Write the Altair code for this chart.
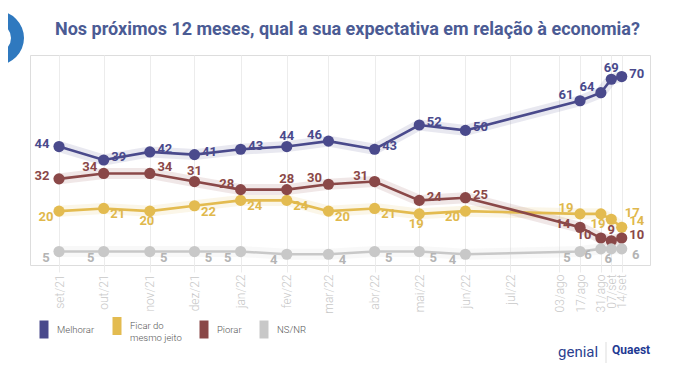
import altair as alt
import pandas as pd

# ---------------- data ----------------
series = ["Melhorar", "Ficar do mesmo jeito", "Piorar", "NS/NR"]
colors = ["#4a4a8c", "#e3bb50", "#8a4848", "#c8c8c8"]
text_colors = ["#4a4a8c", "#e0b84c", "#8a4848", "#b4b4b4"]

point_dates = ["2021-09-01", "2021-10-01", "2021-11-01", "2021-12-01", "2022-01-01",
               "2022-02-01", "2022-03-01", "2022-04-01", "2022-05-01", "2022-06-01",
               "2022-08-17", "2022-08-31", "2022-09-07", "2022-09-14"]

melhorar = [44, 39, 42, 41, 43, 44, 46, 43, 52, 50, 61, 64, 69, 70]
ficar = [20, 21, 20, 22, 24, 24, 20, 21, 19, 20, 19, 19, 17, 14]
piorar = [32, 34, 34, 31, 28, 28, 30, 31, 24, 25, 14, 10, 9, 10]
nsnr = [5, 5, 5, 5, 5, 4, 4, 5, 5, 4, 5, 6, 6, 6]

tick_dates = [(2021, 9, 1), (2021, 10, 1), (2021, 11, 1), (2021, 12, 1), (2022, 1, 1),
              (2022, 2, 1), (2022, 3, 1), (2022, 4, 1), (2022, 5, 1), (2022, 6, 1),
              (2022, 7, 1), (2022, 8, 3), (2022, 8, 17), (2022, 8, 31), (2022, 9, 7),
              (2022, 9, 14)]
tick_labels = ["set/21", "out/21", "nov/21", "dez/21", "jan/22", "fev/22", "mar/22",
               "abr/22", "mai/22", "jun/22", "jul/22", "03/ago", "17/ago", "31/ago",
               "07/set", "14/set"]

title_text = "Nos próximos 12 meses, qual a sua expectativa em relação à economia?"

# label placement codes (relative to each point)
label_place = {
    "Melhorar": ["L", "R", "R", "R", "R", "A", "AL", "R", "R", "R", "AL", "AL", "A", "R"],
    "Ficar do mesmo jeito": ["BL", "BR", "B", "BR", "BR", "BR", "BR", "BR", "B", "BL", "AL", "B", "AR2", "AR"],
    "Piorar": ["L", "AL", "AR", "A", "AL", "A", "AL", "AL", "R", "R", "L", "L", "A", "R"],
    "NS/NR": ["BL", "BL", "BR", "BR", "BL", "BL", "BR", "BR", "BR", "BL", "BL", "BL", "B", "BR"],
}
offsets = {
    "L": (-17, -3), "R": (15, -3), "A": (0, -11), "AL": (-14, -6), "AR": (15, -6),
    "AR2": (21, -6), "BL": (-13, 6), "BR": (14, 6), "B": (-3, 10),
}

values = {"Melhorar": melhorar, "Ficar do mesmo jeito": ficar, "Piorar": piorar, "NS/NR": nsnr}

rows = []
for s, tc in zip(series, text_colors):
    for d, v, p in zip(point_dates, values[s], label_place[s]):
        rows.append({"data": d, "serie": s, "valor": v, "pos": p, "cor_txt": tc})
df = pd.DataFrame(rows)

# ---------------- encodings ----------------
def dt(t, h=0):
    return alt.DateTime(year=t[0], month=t[1], date=t[2], hours=h, utc=True)

label_expr = "''"
for t, lab in zip(reversed(tick_dates), reversed(tick_labels)):
    key = f"{t[0]:04d}-{t[1]:02d}-{t[2]:02d}"
    label_expr = f"utcFormat(datum.value, '%Y-%m-%d') == '{key}' ? '{lab}' : ({label_expr})"

x_enc = alt.X(
    "data:T",
    scale=alt.Scale(type="utc", domain=[dt((2021, 8, 12), 12), dt((2022, 10, 3))]),
    axis=alt.Axis(
        values=[dt(t) for t in tick_dates],
        labelExpr=label_expr,
        title=None,
        domain=False,
        grid=True,
        gridColor="#ececec",
        gridWidth=1,
        ticks=True,
        tickSize=7,
        tickColor="#ececec",
        labelAngle=270,
        labelAlign="right",
        labelBaseline="middle",
        labelPadding=2,
        labelFont="Roboto",
        labelFontWeight=300,
        labelFontSize=12,
        labelColor="#c8c8c8",
        labelOverlap=False,
    ),
)
y_enc = alt.Y("valor:Q", scale=alt.Scale(domain=[0, 78]), axis=None)
legend = alt.Legend(
    title=None, orient="none", legendX=5, legendY=262, direction="horizontal",
    symbolType="M-0.5,-1H0.5V1H-0.5Z", symbolSize=324, symbolStrokeWidth=0,
    symbolOpacity=1, labelFont="Roboto", labelFontSize=9.5, labelFontWeight=300,
    labelColor="#555555", columnPadding=13, labelOffset=4, labelLimit=200,
    labelExpr="datum.label == 'Ficar do mesmo jeito' ? ['Ficar do', 'mesmo jeito'] : datum.label",
)
color_enc = alt.Color("serie:N", scale=alt.Scale(domain=series, range=colors), legend=legend)

base = alt.Chart(df)

bands = base.mark_line(strokeWidth=11, opacity=0.13, strokeCap="round", strokeJoin="round").encode(
    x=x_enc, y=y_enc, color=color_enc,
)
lines = base.mark_line(strokeWidth=2.6).encode(x=x_enc, y=y_enc, color=color_enc)
points = base.mark_point(filled=True, size=125, opacity=1).encode(x=x_enc, y=y_enc, color=color_enc)

text_layers = []
for code, (dx, dy) in offsets.items():
    text_layers.append(
        base.transform_filter(alt.datum.pos == code)
        .mark_text(dx=dx, dy=dy, font="Roboto", fontWeight="bold", fontSize=13)
        .encode(x=x_enc, y=y_enc, text="valor:Q", fill=alt.Fill("cor_txt:N", scale=None))
    )

# title and decorative brand elements
one = alt.Chart(pd.DataFrame({"t": [title_text]}))
title = one.mark_text(font="Roboto", fontSize=18, fontWeight="bold",
                      color="#4b5b94", align="left", baseline="alphabetic").encode(
    text="t:N", x=alt.value(25), y=alt.value(-20)
)
ring = one.mark_arc(radius=27, radius2=14, theta=0, theta2=6.2832, color="#2f79bf").encode(
    x=alt.value(-33), y=alt.value(-17)
)
logo1 = one.mark_text(text="genial", font="Roboto", fontSize=15, color="#2b3f8f",
                      align="left", baseline="middle").encode(x=alt.value(528), y=alt.value(297))
logo_sep = one.mark_rule(color="#dddddd").encode(x=alt.value(576), y=alt.value(287), y2=alt.value(308))
logo2 = one.mark_text(text="Quaest", font="Roboto", fontWeight="bold", fontSize=12,
                      color="#1f3a93", align="left", baseline="middle").encode(x=alt.value(582), y=alt.value(295))

chart = alt.layer(
    bands, lines, points, *text_layers, title, ring, logo1, logo_sep, logo2
).properties(
    width=620,
    height=210,
    autosize=alt.AutoSizeParams(type="none"),
    padding={"left": 22, "top": 47, "right": 20, "bottom": 100},
).configure_view(strokeWidth=0).configure(background="white")

chart.save("out.html", embed_options={"renderer": "svg", "actions": False})
